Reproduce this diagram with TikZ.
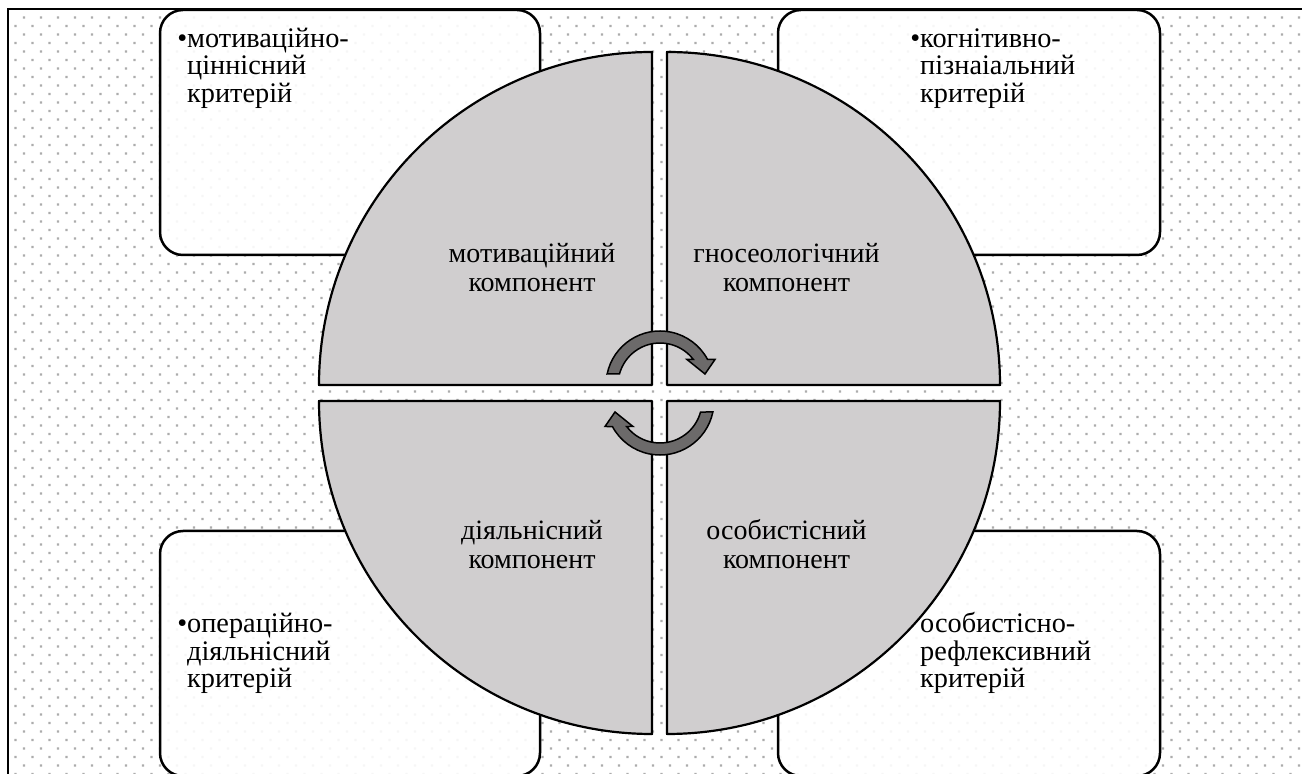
\documentclass[tikz,border=0pt]{standalone}
\usepackage{fontspec}
\setmainfont{Liberation Serif}
\definecolor{dotc}{RGB}{172,172,172}
\definecolor{quadgray}{RGB}{208,206,207}
\definecolor{arrgray}{RGB}{108,106,106}
\tikzset{
  box/.style={draw=black, line width=2.5pt, rounded corners=23pt, fill=white, fill opacity=0.9, inner sep=0pt, minimum height=245pt},
  crit/.style={font=\fontsize{28.3}{27.5}\selectfont, anchor=base west, inner sep=0pt, text opacity=1},
  comp/.style={font=\fontsize{28}{29}\selectfont, anchor=base, inner sep=0pt},
  quad/.style={fill=quadgray, draw=black, line width=2.2pt, line join=round},
  cyc/.style={fill=arrgray, draw=black, line width=1.5pt, line join=miter},
}
\begin{document}
\begin{tikzpicture}[x=1pt,y=1pt]
\useasboundingbox (0,0) rectangle (1302,774);
\clip (0,0) rectangle (1302,774);
\fill[white] (0,0) rectangle (1302,774);
% dotted background
\fill[dotc] \foreach \j in {0,...,44} { \foreach \i in {0,...,75} {
  (22.9+17*\i, 755.4-17*\j) rectangle ++(2.2,2.2)
  (14.4+17*\i, 746.9-17*\j) rectangle ++(2.2,2.2) } };
% outer frame
\draw[line width=2pt] (8,-20) -- (8,765) -- (1330,765);
% criterion boxes
\node[box, minimum width=380pt] (bTL) at (350,641.5) {};
\node[box, minimum width=382pt] (bTR) at (969,641.5) {};
\node[box, minimum width=380pt] (bBL) at (350,120.5) {};
\node[box, minimum width=382pt] (bBR) at (969,120.5) {};
% criterion texts
\node[crit] (tTL1) at (177.1,726.8) {•мотиваційно-};
\node[crit] (tTL2) at (187,699.3) {ціннісний};
\node[crit] (tTL3) at (187,671.8) {критерій};
\node[crit] (tTR1) at (910.1,726.8) {•когнітивно-};
\node[crit] (tTR2) at (920,699.3) {пізнаіальний};
\node[crit] (tTR3) at (920,671.8) {критерій};
\node[crit] (tBL1) at (177.1,141) {•операційно-};
\node[crit] (tBL2) at (187,113.5) {діяльнісний};
\node[crit] (tBL3) at (187,86) {критерій};
\node[crit] (tBR1) at (920,141) {особистісно-};
\node[crit] (tBR2) at (920,113.5) {рефлексивний};
\node[crit] (tBR3) at (920,86) {критерій};
% circle quadrants
\draw[quad] (652,389) -- ++(-333,0) arc[start angle=180, end angle=90, radius=333] -- cycle;
\draw[quad] (667,389) -- ++(0,333) arc[start angle=90, end angle=0, radius=333] -- cycle;
\draw[quad] (667,373) -- ++(333,0) arc[start angle=0, end angle=-90, radius=333] -- cycle;
\draw[quad] (652,373) -- ++(0,-333) arc[start angle=270, end angle=180, radius=333] -- cycle;
% component texts
\node[comp] (cTL1) at (532,511) {мотиваційний};
\node[comp] (cTL2) at (532,482) {компонент};
\node[comp] (cTR1) at (786.5,511) {гносеологічний};
\node[comp] (cTR2) at (786.5,482) {компонент};
\node[comp] (cBL1) at (532,234) {діяльнісний};
\node[comp] (cBL2) at (532,205) {компонент};
\node[comp] (cBR1) at (786.5,234) {особистісний};
\node[comp] (cBR2) at (786.5,205) {компонент};
% circular arrows
\draw[cyc] ([shift={(660,389)}]168.25:54) arc[start angle=168.25, end angle=28.2, radius=54]
  -- (715,414.5) -- (705,400) -- (687,414.5)
  -- ([shift={(660,389)}]37.4:42) arc[start angle=37.4, end angle=164.8, radius=42] -- cycle;
\draw[cyc] ([shift={(660,373)}]-11.75:54) arc[start angle=-11.75, end angle=-151.8, radius=54]
  -- (605,347.5) -- (615,362) -- (633,347.5)
  -- ([shift={(660,373)}]-142.6:42) arc[start angle=-142.6, end angle=-15.2, radius=42] -- cycle;
\end{tikzpicture}
\end{document}
